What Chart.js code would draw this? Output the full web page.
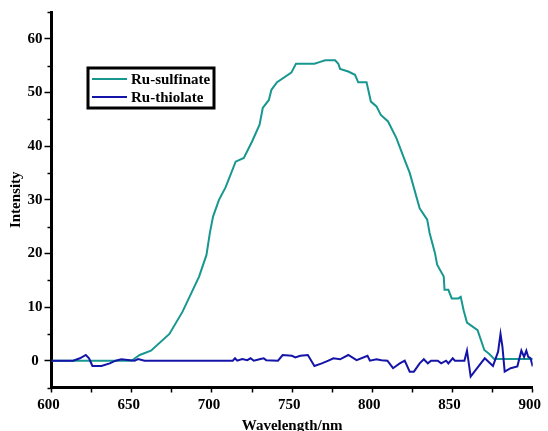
<!DOCTYPE html>
<html>
<head>
<meta charset="utf-8">
<script src="https://cdn.jsdelivr.net/npm/chart.js@4/dist/chart.umd.min.js"></script>
<style>
  html, body { margin: 0; padding: 0; background: #ffffff; }
  #wrap { position: relative; width: 548px; height: 431px; }
</style>
</head>
<body>
<div id="wrap"><canvas id="c" width="548" height="431"></canvas></div>
<script>
// ---- data ----
const seriesNames = ['Ru-sulfinate', 'Ru-thiolate'];

const sulfinateWavelength = [600, 650, 652, 655, 662, 673.5, 681.7, 692, 696.6, 698.7,
  700.7, 704.4, 708.5, 714.8, 719.9, 725.1, 729.7, 731.7, 735.5, 737.1,
  740.6, 749.5, 752.4, 763.9, 767.5, 770.6, 776.8, 778.8, 779.9, 785,
  789.2, 791.2, 796.4, 799.1, 802.6, 805.3, 809.8, 815, 820.2, 823.3,
  829.5, 834.2, 835.7, 839.1, 840.4, 844.5, 845, 847.4, 849.5, 853.6,
  855.1, 856.9, 859, 865.6, 869.8, 872.9, 876, 900];
const sulfinateIntensity = [0, 0, 0.45, 1.06, 1.87, 4.98, 9.14, 15.67, 19.72, 23.77,
  26.87, 29.98, 32.3, 37.1, 37.8, 40.9, 44.0, 47.1, 48.6, 50.5,
  51.9, 53.7, 55.35, 55.35, 55.7, 56.0, 56.0, 55.35, 54.4, 53.9,
  53.3, 51.9, 51.9, 48.3, 47.4, 45.8, 44.6, 41.5, 37.4, 35.0,
  28.4, 26.3, 23.8, 20.0, 17.9, 15.7, 13.2, 13.2, 11.6, 11.6,
  11.9, 9.4, 7.1, 5.7, 2.0, 1.25, 0.3, 0.3];

const thiolateWavelength = [600, 613.5, 617.7, 621.4, 623.4, 625.5, 631.1, 636.3, 640, 643.5,
  651.8, 654, 658, 713, 714.4, 715.8, 718.9, 722, 724.1, 726.1,
  730.3, 732.3, 733.8, 741.2, 744.1, 749.9, 752, 755.1, 759.8, 763.9,
  768.5, 772.6, 775.7, 779.9, 785, 790.2, 797, 798.5, 802.6, 805.7,
  809.4, 812.9, 817.1, 820.2, 823.3, 825.9, 829.5, 832.1, 834.6, 836.6,
  840.8, 842.9, 846, 847.4, 850.1, 851.5, 857.4, 859, 861.3, 867.6,
  870.1, 875.2, 878.4, 879.9, 881.1, 882.5, 886.2, 890.4, 892.9, 894.6,
  896, 897.2, 898.6, 900];
const thiolateIntensity = [0, 0, 0.45, 1.06, 0.45, -0.99, -0.99, -0.5, 0, 0.26,
  0, 0.3, 0, 0, 0.45, 0, 0.3, 0.1, 0.45, 0,
  0.3, 0.45, 0.1, 0, 1.06, 0.9, 0.6, 0.9, 1.06, -0.99,
  -0.5, 0, 0.45, 0.26, 1.06, 0.1, 0.9, 0, 0.26, 0.1,
  0, -1.4, -0.5, 0, -2.05, -2.05, -0.5, 0.26, -0.5, 0,
  0, -0.5, 0, -0.5, 0.45, 0, 0, 1.87, -2.96, -0.5,
  0.45, -0.99, 1.68, 5.0, 2.6, -2.05, -1.4, -1.06, 1.87, 0.7,
  1.87, 0.7, 0.45, -1.06];

const xMin = 600, xMax = 900, xStep = 25, xLabelStep = 50;
const yMin = -5, yMax = 65, yStep = 5, yLabelStep = 10, yLabelMax = 60;
const xTitle = 'Wavelength/nm';
const yTitle = 'Intensity';

// ---- styles ----
const tealColor = '#17978f';
const blueColor = '#1414a8';
const serif = '"Liberation Serif", "Times New Roman", serif';

function toPoints(xs, ys) { return xs.map((x, i) => ({ x: x, y: ys[i] })); }

// minor tick marks (shorter) drawn through scale helpers
const minorTicks = {
  id: 'minorTicks',
  afterDraw(chart) {
    const ctx = chart.ctx;
    const y = chart.scales.y;
    const left = chart.chartArea.left;
    ctx.save();
    ctx.strokeStyle = '#000';
    ctx.lineWidth = 1.5;
    y.ticks.forEach(t => {
      if (Math.abs(t.value % yLabelStep) > 1e-6) {
        const py = Math.round(y.getPixelForValue(t.value)) + 0.5;
        ctx.beginPath();
        ctx.moveTo(left - 4, py);
        ctx.lineTo(left, py);
        ctx.stroke();
      }
    });
    ctx.restore();
  }
};

// boxed legend in the upper left of the plot
const boxLegend = {
  id: 'boxLegend',
  afterDraw(chart) {
    const ctx = chart.ctx;
    const bx = 88, by = 68, bw = 126, bh = 40;
    ctx.save();
    ctx.fillStyle = '#fff';
    ctx.fillRect(bx, by, bw, bh);
    ctx.strokeStyle = '#000';
    ctx.lineWidth = 3;
    ctx.strokeRect(bx, by, bw, bh);
    ctx.font = 'bold 15px ' + serif;
    ctx.textBaseline = 'middle';
    ctx.textAlign = 'left';
    chart.data.datasets.forEach((ds, i) => {
      const ly = by + 11 + i * 18;
      ctx.strokeStyle = ds.borderColor;
      ctx.lineWidth = 2;
      ctx.beginPath();
      ctx.moveTo(bx + 4, ly);
      ctx.lineTo(bx + 39, ly);
      ctx.stroke();
      ctx.fillStyle = '#000';
      ctx.fillText(ds.label, bx + 43, ly + 1);
    });
    ctx.restore();
  }
};

new Chart(document.getElementById('c'), {
  type: 'line',
  data: {
    datasets: [
      { label: seriesNames[0], data: toPoints(sulfinateWavelength, sulfinateIntensity),
        borderColor: tealColor, borderWidth: 2, pointRadius: 0, tension: 0, order: 2 },
      { label: seriesNames[1], data: toPoints(thiolateWavelength, thiolateIntensity),
        borderColor: blueColor, borderWidth: 2, pointRadius: 0, tension: 0, order: 1 }
    ]
  },
  options: {
    responsive: false,
    animation: false,
    devicePixelRatio: 1,
    layout: { padding: { top: 12, right: 12, left: 0, bottom: 0 } },
    plugins: { legend: { display: false }, tooltip: { enabled: false } },
    scales: {
      x: {
        type: 'linear', min: xMin, max: xMax,
        afterFit(s) { s.height = 43.5; },
        ticks: {
          stepSize: xStep, autoSkip: false, maxRotation: 0, padding: 4, labelOffset: -3,
          color: '#000', font: { family: serif, size: 15, weight: 'bold' },
          callback: v => (v % xLabelStep === 0 ? String(v) : '')
        },
        grid: { drawOnChartArea: false, drawTicks: true, tickLength: 5, tickColor: '#000', tickWidth: 1.5 },
        border: { display: true, color: '#000', width: 3 },
        title: { display: true, text: xTitle, color: '#000',
          font: { family: serif, size: 15, weight: 'bold', lineHeight: 0.6 }, padding: { top: 0, bottom: 0 } }
      },
      y: {
        type: 'linear', min: yMin, max: yMax,
        afterFit(s) { s.width = 51.5; },
        ticks: {
          stepSize: yStep, autoSkip: false, padding: 2, crossAlign: 'center',
          color: '#000', font: { family: serif, size: 15, weight: 'bold' },
          callback: v => (v % yLabelStep === 0 && v >= 0 && v <= yLabelMax ? String(v) : '')
        },
        grid: { drawOnChartArea: false, drawTicks: true, tickLength: 7, tickWidth: 1.5,
          tickColor: c => (c.tick && Math.abs(c.tick.value % yLabelStep) < 1e-6 ? '#000' : 'rgba(0,0,0,0)') },
        border: { display: true, color: '#000', width: 3 },
        title: { display: true, text: yTitle, color: '#000',
          font: { family: serif, size: 15, weight: 'bold', lineHeight: 1.2 }, padding: { top: 7.5, bottom: 0 } }
      }
    }
  },
  plugins: [minorTicks, boxLegend]
});
</script>
</body>
</html>
